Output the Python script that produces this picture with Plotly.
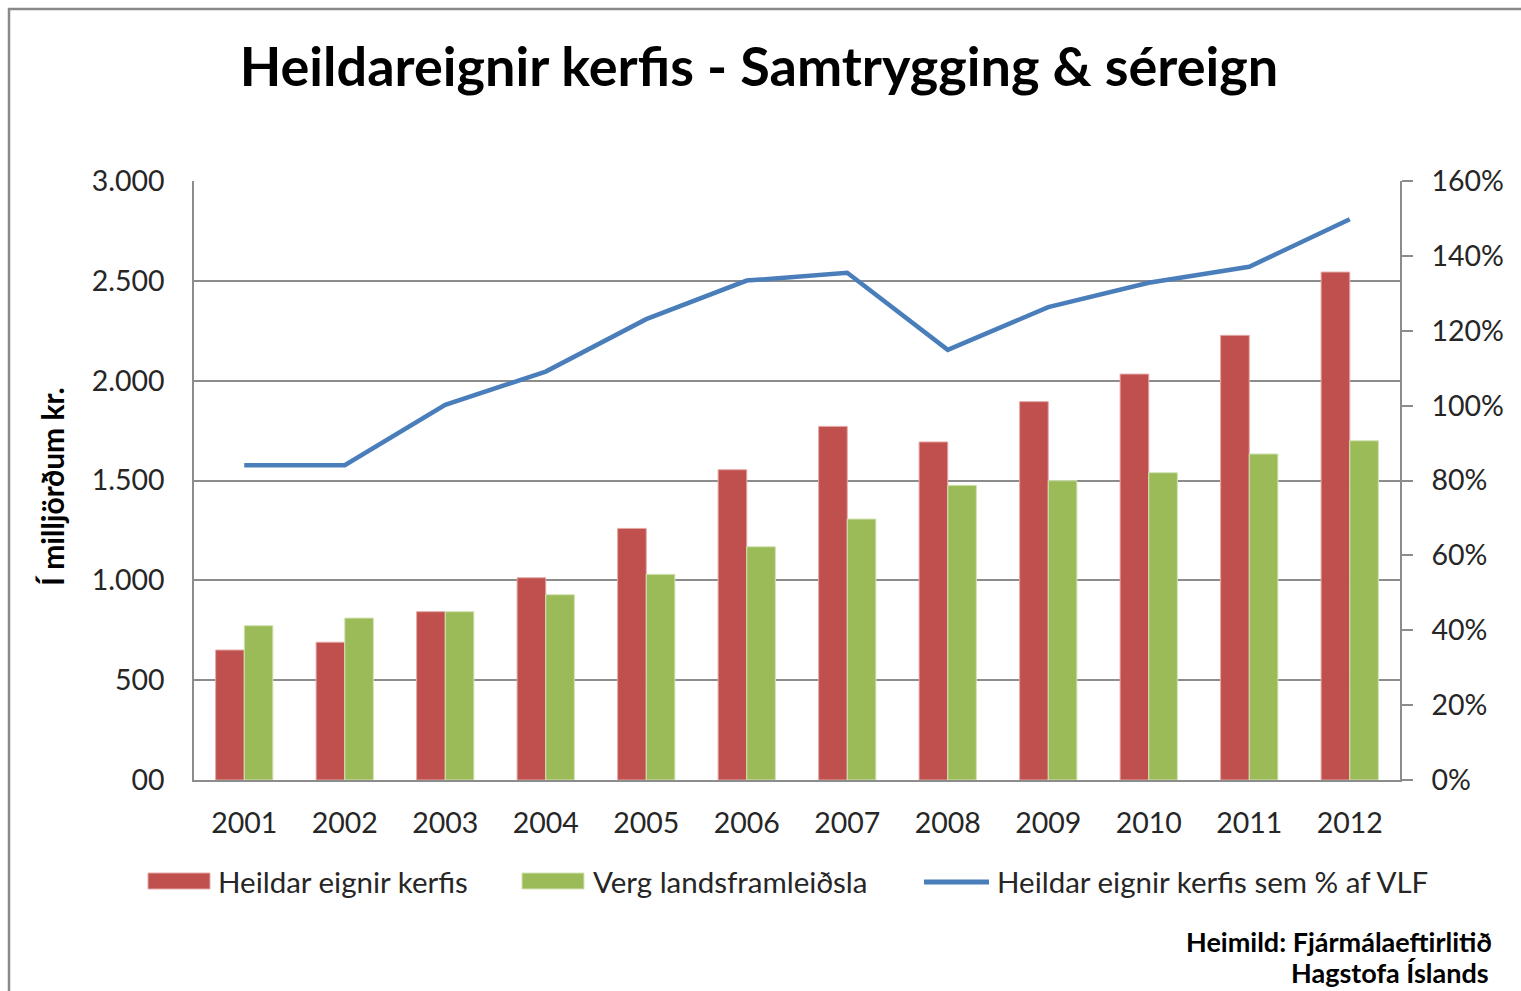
import plotly.graph_objects as go

# ---- data ----
years = ["2001", "2002", "2003", "2004", "2005", "2006", "2007", "2008", "2009", "2010", "2011", "2012"]
heildar_eignir = [651, 690, 843, 1013, 1260, 1554, 1771, 1693, 1895, 2033, 2227, 2544]
verg_landsframleidsla = [773, 811, 843, 928, 1030, 1168, 1307, 1476, 1499, 1539, 1633, 1699]
hlutfall_vlf = [0.841, 0.841, 1.002, 1.091, 1.231, 1.334, 1.355, 1.149, 1.263, 1.328, 1.371, 1.498]

left_tickvals = [0, 500, 1000, 1500, 2000, 2500, 3000]
left_ticktext = ["00", "500", "1.000", "1.500", "2.000", "2.500", "3.000"]
right_tickvals = [0, 0.2, 0.4, 0.6, 0.8, 1.0, 1.2, 1.4, 1.6]

names = ["Heildar eignir kerfis", "Verg landsframleiðsla", "Heildar eignir kerfis sem % af VLF"]
title_text = "Heildareignir kerfis - Samtrygging & séreign"
yaxis_title = "Í milljörðum kr."
source_lines = ["Heimild: Fjármálaeftirlitið", "Hagstofa Íslands"]

RED = "#C0504D"
GREEN = "#9BBB59"
BLUE = "#4A7EBB"
GRID = "#8C8C8C"
FONT = "Lato, 'Open Sans', sans-serif"
TXT = "#262626"

W, H = 1521, 991
L, R, T, B = 194, 121, 181, 211
PW, PH = W - L - R, H - T - B


def px(x):
    return (x - L) / PW


def py(y):
    return (H - B - y) / PH


fig = go.Figure()
fig.add_trace(go.Bar(x=years, y=heildar_eignir, name=names[0],
                     marker=dict(color=RED, line=dict(color="#E3A9A7", width=1)),
                     showlegend=False))
fig.add_trace(go.Bar(x=years, y=verg_landsframleidsla, name=names[1],
                     marker=dict(color=GREEN, line=dict(color="#D3E3B5", width=1)),
                     showlegend=False))
fig.add_trace(go.Scatter(x=years, y=hlutfall_vlf, name=names[2], yaxis="y2",
                         mode="lines", line=dict(color=BLUE, width=4.5),
                         showlegend=False))

TICK = 28.5
LEG = 29.5

fig.update_layout(
    width=W, height=H,
    margin=dict(l=L, r=R, t=T, b=B, pad=0),
    paper_bgcolor="white", plot_bgcolor="white",
    barmode="group", bargap=0.43, bargroupgap=0,
    font=dict(family=FONT, color=TXT, size=TICK),
    title=dict(text="<b>" + title_text + "</b>", x=759 / W, xanchor="center",
               y=1 - 67 / H, yanchor="middle", yref="container",
               font=dict(family=FONT, size=54, color="black")),
    xaxis=dict(showgrid=False, showline=True, linecolor=GRID, linewidth=1.5,
               ticks="", tickfont=dict(size=TICK, color=TXT), ticklabelstandoff=17,
               mirror=False),
    yaxis=dict(range=[0, 3000], tickvals=left_tickvals, ticktext=left_ticktext,
               showgrid=True, gridcolor=GRID, gridwidth=1.5,
               showline=True, linecolor=GRID, linewidth=1.5, ticks="",
               tickfont=dict(size=TICK, color=TXT), ticklabelstandoff=22, zeroline=False),
    yaxis2=dict(range=[0, 1.6], tickvals=right_tickvals, tickformat=".0%",
                overlaying="y", side="right", showgrid=False,
                showline=True, linecolor=GRID, linewidth=1.5,
                ticks="outside", ticklen=11, tickcolor=GRID, tickwidth=1.5,
                tickfont=dict(size=TICK, color=TXT), ticklabelstandoff=13, zeroline=False),
)

# outer chart frame
fig.add_shape(type="rect", xref="paper", yref="paper",
              x0=px(9), x1=px(1540), y0=py(1010), y1=py(9),
              line=dict(color="#8A8A8A", width=2.5), fillcolor="rgba(0,0,0,0)", layer="below")

# manual legend
ly = 881
fig.add_shape(type="rect", xref="paper", yref="paper", x0=px(148), x1=px(210),
              y0=py(889), y1=py(873), fillcolor=RED, line=dict(color="#E3A9A7", width=1))
fig.add_annotation(x=px(216), y=py(ly), xref="paper", yref="paper", text=names[0],
                   showarrow=False, xanchor="left", yanchor="middle",
                   font=dict(size=LEG, color=TXT))
fig.add_shape(type="rect", xref="paper", yref="paper", x0=px(522), x1=px(584),
              y0=py(889), y1=py(873), fillcolor=GREEN, line=dict(color="#D3E3B5", width=1))
fig.add_annotation(x=px(591), y=py(ly), xref="paper", yref="paper", text=names[1],
                   showarrow=False, xanchor="left", yanchor="middle",
                   font=dict(size=LEG, color=TXT))
fig.add_shape(type="line", xref="paper", yref="paper", x0=px(924), x1=px(989),
              y0=py(882), y1=py(882), line=dict(color=BLUE, width=5))
fig.add_annotation(x=px(995), y=py(ly), xref="paper", yref="paper", text=names[2],
                   showarrow=False, xanchor="left", yanchor="middle",
                   font=dict(size=LEG, color=TXT))

# y-axis title
fig.add_annotation(x=px(52), y=py(487), xref="paper", yref="paper",
                   text="<b>" + yaxis_title + "</b>", textangle=-90, showarrow=False,
                   xanchor="center", yanchor="middle", font=dict(size=30, color="black"))

# source
fig.add_annotation(x=px(1494), y=py(941), xref="paper", yref="paper",
                   text="<b>" + source_lines[0] + "</b>", showarrow=False,
                   xanchor="right", yanchor="middle", font=dict(size=27, color="black"))
fig.add_annotation(x=px(1491), y=py(972), xref="paper", yref="paper",
                   text="<b>" + source_lines[1] + "</b>", showarrow=False,
                   xanchor="right", yanchor="middle", font=dict(size=27, color="black"))

fig.write_html("out.html", config={"displayModeBar": False},
               post_script="document.body.style.margin='0';document.body.style.overflow='hidden';")
